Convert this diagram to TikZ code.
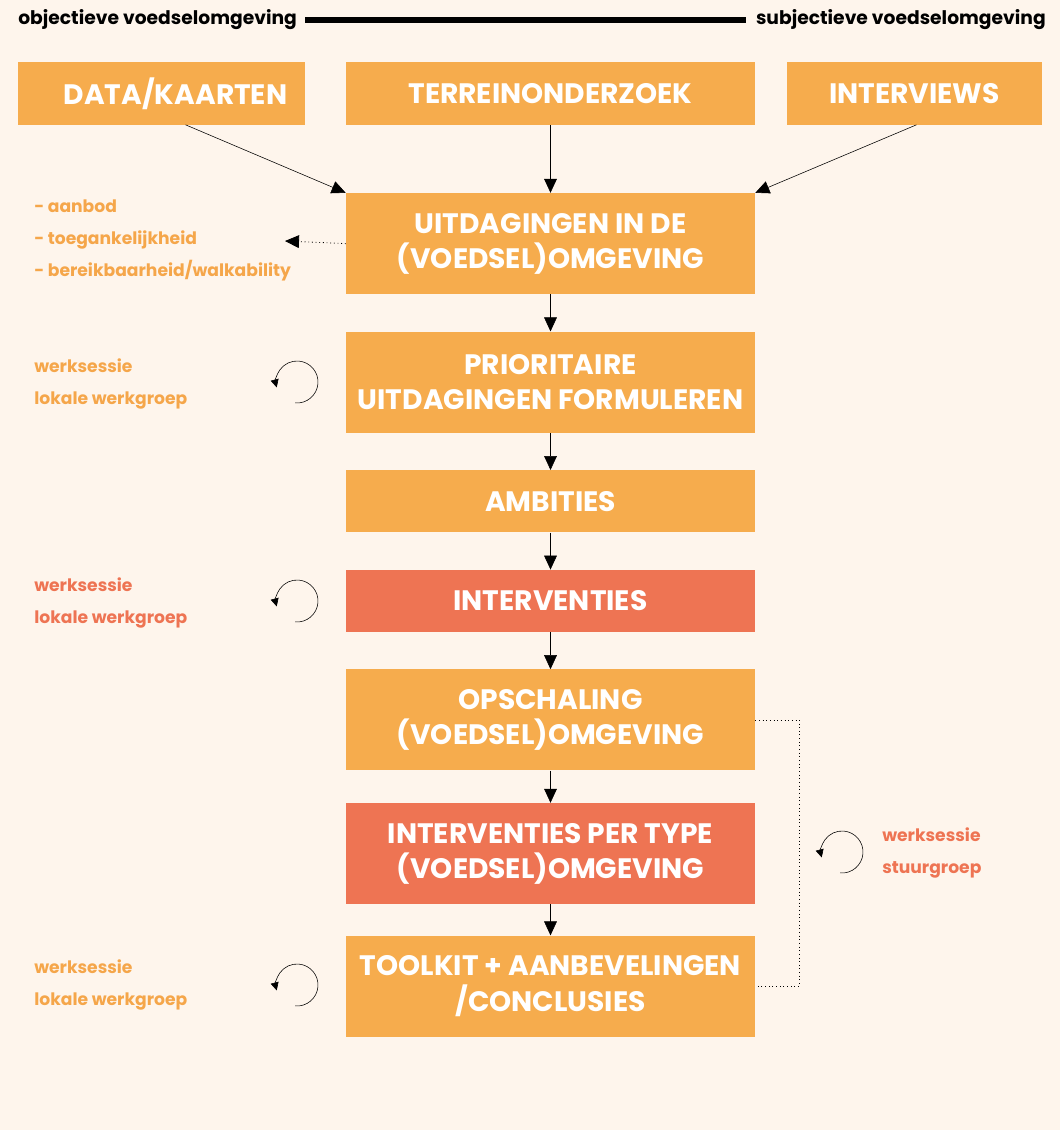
\documentclass[tikz,border=0pt]{standalone}
\usepackage{fontspec}
\setmainfont{Poppins}
\usepackage{tikz}
\usetikzlibrary{arrows.meta,positioning}
\definecolor{papier}{HTML}{FEF5EC}
\definecolor{oranje}{HTML}{F6AC4D}
\definecolor{rood}{HTML}{EE7453}
\definecolor{oranjetekst}{HTML}{F5A64A}

\begin{document}
\begin{tikzpicture}[x=0.025cm,y=-0.025cm,->,>={Triangle[length=0.35cm,width=0.32cm]},thin,node distance=0.925cm]
  \tikzset{stap/.style={fill=oranje, text=white, font=\bfseries\fontsize{20}{25}\selectfont, align=center, minimum width=10.225cm, minimum height=2.525cm, inner sep=0pt},
           laag/.style={minimum height=1.55cm},
           accent/.style={fill=rood},
           noot/.style={anchor=west, align=left, font=\bfseries\fontsize{12.2}{22.8}\selectfont, inner sep=0pt},
           kop/.style={font=\bfseries\fontsize{13.3}{15}\selectfont, inner sep=0pt},
           lus/.style={-{Triangle[length=0.2cm,width=0.2cm]}, thin},
           stippel/.style={dotted, line width=0.6pt}}
  \fill[papier] (0,0) rectangle (1060,1130);
  % bronnen
  \node[kop, anchor=west] (objectief) at (18,20) {objectieve voedselomgeving};
  \node[kop, anchor=east] (subjectief) at (1046,20) {subjectieve voedselomgeving};
  \draw[-, line width=0.15cm, shorten <=0.2cm, shorten >=0.25cm] (objectief.east) -- (subjectief.west);
  \node[stap, laag] (terrein) at (550.5,93.5) {TERREINONDERZOEK};
  \node[stap, laag, minimum width=7.175cm] (data) at (161.5,93.5) {\hspace*{0.7cm}DATA/KAARTEN};
  \node[stap, laag, minimum width=6.375cm] (interviews) at (914.5,93.5) {INTERVIEWS};
  % stappen
  \node[stap, below=1.7cm of terrein] (uitdagingen) {UITDAGINGEN IN DE\\(VOEDSEL)OMGEVING};
  \node[stap, below=of uitdagingen] (prioritair) {PRIORITAIRE\\UITDAGINGEN FORMULEREN};
  \node[stap, laag, below=of prioritair] (ambities) {AMBITIES};
  \node[stap, laag, accent, below=of ambities] (interventies) {INTERVENTIES};
  \node[stap, below=of interventies] (opschaling) {OPSCHALING\\(VOEDSEL)OMGEVING};
  \node[stap, accent, below=0.8cm of opschaling] (pertype) {INTERVENTIES PER TYPE\\(VOEDSEL)OMGEVING};
  \node[stap, below=0.775cm of pertype] (toolkit) {TOOLKIT + AANBEVELINGEN\\/CONCLUSIES};
  \draw ([xshift=0.6cm]data.south) -- (uitdagingen.north west);
  \draw (terrein) -- (uitdagingen);
  \draw ([xshift=0.05cm]interviews.south) -- (uitdagingen.north east);
  \draw (uitdagingen) -- (prioritair);
  \draw (prioritair) -- (ambities);
  \draw (ambities) -- (interventies);
  \draw (interventies) -- (opschaling);
  \draw (opschaling) -- (pertype);
  \draw (pertype) -- (toolkit);
  % noten
  \node[noot, text=oranjetekst] (lijst) at (34,240) {- aanbod\\- toegankelijkheid\\- bereikbaarheid/walkability};
  \coordinate (lijstpijl) at (285,241);
  \draw[stippel] (uitdagingen.west) -- (lijstpijl);
  \node[noot, text=oranjetekst] (sessie1) at (34,384) {werksessie\\lokale werkgroep};
  \node[noot, text=rood] (sessie2) at (34,603) {werksessie\\lokale werkgroep};
  \node[noot, text=oranjetekst] (sessie3) at (34,985) {werksessie\\lokale werkgroep};
  \node[noot, text=rood] (sessie4) at (882,853) {werksessie\\stuurgroep};
  \coordinate (lus1) at (297,382);
  \coordinate (lus2) at (297,601);
  \coordinate (lus3) at (297,985);
  \coordinate (lus4) at (842,852);
  \foreach \l in {lus1,lus2,lus3,lus4}
    \draw[lus] ([shift={(-95:0.525cm)}]\l) arc[start angle=-95, end angle=195, radius=0.525cm];
  \draw[-, stippel] (opschaling.east) -- ++(44,0) |- (toolkit.east);
\end{tikzpicture}
\end{document}
